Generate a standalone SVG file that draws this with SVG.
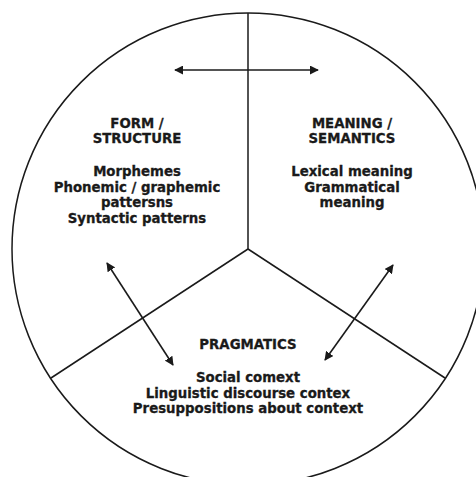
<svg xmlns="http://www.w3.org/2000/svg" width="476" height="477" viewBox="0 0 476 477">
<style>
.ln{stroke:#1a1a1a;stroke-width:1.5;fill:none}
.ar{stroke:#1a1a1a;stroke-width:1.6;fill:none;marker-start:url(#ah);marker-end:url(#ah)}
text{font-family:"DejaVu Sans",Verdana,sans-serif;font-weight:bold;font-size:13.3px;fill:#1a1a1a;stroke:#1a1a1a;stroke-width:0.3;text-anchor:middle}
</style>
<defs>
<marker id="ah" viewBox="0 0 10 10" refX="9" refY="5" markerWidth="9" markerHeight="9" markerUnits="userSpaceOnUse" orient="auto-start-reverse">
<path d="M0,0 L10,5 L0,10 Z" fill="#1a1a1a"/>
</marker>
</defs>
<rect width="476" height="477" fill="#fff"/>
<g id="frame">
<circle class="ln" cx="248" cy="249" r="236" stroke-width="1.3"/>
<line class="ln" x1="248" y1="13" x2="248" y2="249"/>
<line class="ln" x1="248" y1="249" x2="51" y2="378"/>
<line class="ln" x1="248" y1="249" x2="445" y2="378"/>
</g>
<g id="connectors">
<line class="ar" x1="175" y1="70" x2="318" y2="70"/>
<line class="ar" x1="107" y1="263" x2="173" y2="365"/>
<line class="ar" x1="393" y1="265" x2="325" y2="360"/>
</g>
<g id="form">
<text x="137" y="128">FORM /</text>
<text x="137" y="143">STRUCTURE</text>
<text x="137" y="176">Morphemes</text>
<text x="137" y="191.5">Phonemic / graphemic</text>
<text x="137" y="207">pattersns</text>
<text x="137" y="223">Syntactic patterns</text>
</g>
<g id="meaning">
<text x="352" y="128">MEANING /</text>
<text x="352" y="143">SEMANTICS</text>
<text x="352" y="176">Lexical meaning</text>
<text x="352" y="191.5">Grammatical</text>
<text x="352" y="207">meaning</text>
</g>
<g id="pragmatics">
<text x="248" y="349">PRAGMATICS</text>
<text x="248" y="382">Social comext</text>
<text x="248" y="397.5">Linguistic discourse contex</text>
<text x="248" y="413">Presuppositions about context</text>
</g>
</svg>
